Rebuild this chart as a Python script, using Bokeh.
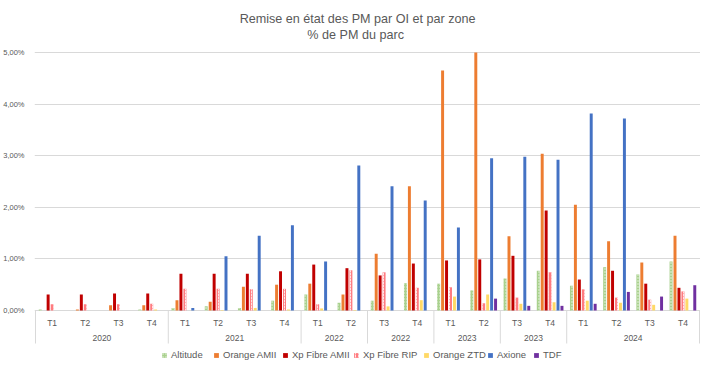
import numpy as np
from bokeh.plotting import figure
from bokeh.models import Range1d, FixedTicker, Legend, LegendItem, Label, CustomJSTickFormatter
from bokeh.core.properties import value
from bokeh.embed import file_html
from bokeh.resources import INLINE

# ---------------- data ----------------
quarters = ["T1", "T2", "T3", "T4",
            "T1", "T2", "T3", "T4",
            "T1", "T2",
            "T3", "T4",
            "T1", "T2",
            "T3", "T4",
            "T1", "T2", "T3", "T4"]
year_groups = ["2020", "2021", "2022", "2022", "2023", "2023", "2024"]
group_sizes = [4, 4, 2, 2, 2, 2, 4]

series_names = ["Altitude", "Orange AMII", "Xp Fibre AMII", "Xp Fibre RIP",
                "Orange ZTD", "Axione", "TDF"]

altitude = [0.02, 0.0, 0.0, 0.02, 0.05, 0.08, 0.05, 0.19, 0.31, 0.15,
            0.19, 0.53, 0.52, 0.39, 0.62, 0.77, 0.48, 0.84, 0.70, 0.95]
orange_amii = [0.0, 0.02, 0.10, 0.10, 0.20, 0.17, 0.46, 0.50, 0.52, 0.31,
               1.10, 2.41, 4.65, 5.00, 1.44, 3.04, 2.05, 1.34, 0.93, 1.45]
xp_fibre_amii = [0.31, 0.31, 0.33, 0.33, 0.71, 0.71, 0.71, 0.76, 0.89, 0.82,
                 0.68, 0.91, 0.97, 0.99, 1.06, 1.94, 0.60, 0.77, 0.52, 0.44]
xp_fibre_rip = [0.12, 0.12, 0.12, 0.13, 0.42, 0.42, 0.41, 0.42, 0.12, 0.78,
                0.74, 0.44, 0.45, 0.14, 0.25, 0.74, 0.41, 0.25, 0.21, 0.37]
orange_ztd = [0.0, 0.0, 0.0, 0.02, 0.0, 0.01, 0.05, 0.02, 0.04, 0.01,
              0.08, 0.20, 0.27, 0.31, 0.13, 0.16, 0.19, 0.15, 0.11, 0.23]
axione = [0.0, 0.0, 0.0, 0.0, 0.05, 1.05, 1.45, 1.65, 0.95, 2.81,
          2.41, 2.13, 1.61, 2.95, 2.98, 2.92, 3.82, 3.72, 0.0, 0.0]
tdf = [0.0, 0.0, 0.0, 0.0, 0.0, 0.0, 0.0, 0.0, 0.0, 0.0,
       0.0, 0.0, 0.0, 0.23, 0.09, 0.09, 0.13, 0.36, 0.27, 0.49]

series_values = [altitude, orange_amii, xp_fibre_amii, xp_fibre_rip,
                 orange_ztd, axione, tdf]
y_ticks = [0, 1, 2, 3, 4, 5]

# ---------------- styles ----------------
colors = ["#a9d18e", "#ed7d31", "#c00000", "#ff7c80", "#ffd966", "#4472c4", "#7030a0"]
hatches = [".", None, None, ":", None, None, None]
FONT = value("Liberation Sans")
TXT = "#595959"
GRID = "#d9d9d9"

PX_Y = 51.6     # px per 1 %
PX_X = 33.6     # px per category
W, H = 700, 361
LEFT = 26
OFF_X, OFF_Y = 8, 0

n = len(quarters)
x_pad = 1 / PX_X
y_max = 5 + (52 - OFF_Y) / PX_Y
y_min = y_max - H / PX_Y

p = figure(width=W, height=H, output_backend="svg", toolbar_location=None,
           x_range=Range1d(-0.5 - x_pad, n - 0.5 + x_pad),
           y_range=Range1d(y_min, y_max),
           x_axis_location=None,
           min_border_left=LEFT, min_border_right=0,
           min_border_top=0, min_border_bottom=0)
p.outline_line_color = None
p.background_fill_color = "white"
p.border_fill_color = "white"
p.xgrid.visible = False
p.ygrid.ticker = FixedTicker(ticks=y_ticks)
p.ygrid.grid_line_color = GRID
p.ygrid.grid_line_width = 1

ax = p.yaxis[0]
ax.ticker = FixedTicker(ticks=y_ticks)
ax.formatter = CustomJSTickFormatter(code="return tick.toFixed(2).replace('.', ',') + '%';")
ax.axis_line_color = None
ax.major_tick_line_color = None
ax.minor_tick_line_color = None
ax.major_label_text_font_size = "7.5px"
ax.major_label_text_color = TXT
ax.major_label_text_font = "Liberation Sans"
ax.major_label_standoff = 4

# ---------------- bars ----------------
idx = np.arange(n)
step = 4.0 / PX_X
bar_w = 3.0 / PX_X
renderers = []
for j, (name, vals, col, hat) in enumerate(zip(series_names, series_values, colors, hatches)):
    kw = dict(x=idx + (j - 3) * step, top=vals, bottom=0, width=bar_w,
              fill_color=col, line_color=None)
    if hat:
        kw.update(hatch_pattern=hat, hatch_color="white", hatch_alpha=0.8,
                  hatch_scale=3, hatch_weight=1)
    r = p.vbar(**kw)
    renderers.append(r)

# ---------------- category axis (drawn) ----------------
def ref_x(px):
    return -0.5 + (px - OFF_X - LEFT) / PX_X

def ref_y(py):
    return y_max - (py - OFF_Y) / PX_Y

bounds = [-0.5]
for s in group_sizes:
    bounds.append(bounds[-1] + s)
centers = [(bounds[i] + bounds[i + 1]) / 2 for i in range(len(group_sizes))]

p.segment(x0=bounds, y0=[0] * len(bounds), x1=bounds,
          y1=[ref_y(343)] * len(bounds), line_color=GRID, line_width=1)
p.text(x=list(idx), y=[ref_y(322)] * n, text=quarters,
       text_align="center", text_baseline="middle", text_font=FONT,
       text_font_size="8.5px", text_color=TXT)
p.text(x=centers, y=[ref_y(337.5)] * len(centers), text=year_groups,
       text_align="center", text_baseline="middle", text_font=FONT,
       text_font_size="8.5px", text_color=TXT)

# ---------------- title ----------------
p.add_layout(Label(x=ref_x(360), y=ref_y(18.5), text="Remise en état des PM par OI et par zone",
                   text_align="center", text_baseline="middle", text_font="Liberation Sans",
                   text_font_size="12.6px", text_color=TXT))
p.add_layout(Label(x=ref_x(358), y=ref_y(34), text="% de PM du parc",
                   text_align="center", text_baseline="middle", text_font="Liberation Sans",
                   text_font_size="12.6px", text_color=TXT))

# ---------------- legend (one per item, fixed positions) ----------------
marker_centers = [164, 216, 285, 356, 426, 490, 536]
legend_y = H - (355 - OFF_Y) - 5
for name, r, mc in zip(series_names, renderers, marker_centers):
    lg = Legend(items=[LegendItem(label=name, renderers=[r])],
                location=(mc - 3 - OFF_X - LEFT, legend_y), orientation="horizontal",
                padding=0, margin=0, spacing=0, glyph_width=6, glyph_height=6,
                label_standoff=4, label_height=10, label_text_font_size="9.5px",
                label_text_color=TXT, label_text_font="Liberation Sans",
                border_line_color=None, background_fill_alpha=0)
    p.add_layout(lg)

open("out.html", "w").write(file_html(p, INLINE))
